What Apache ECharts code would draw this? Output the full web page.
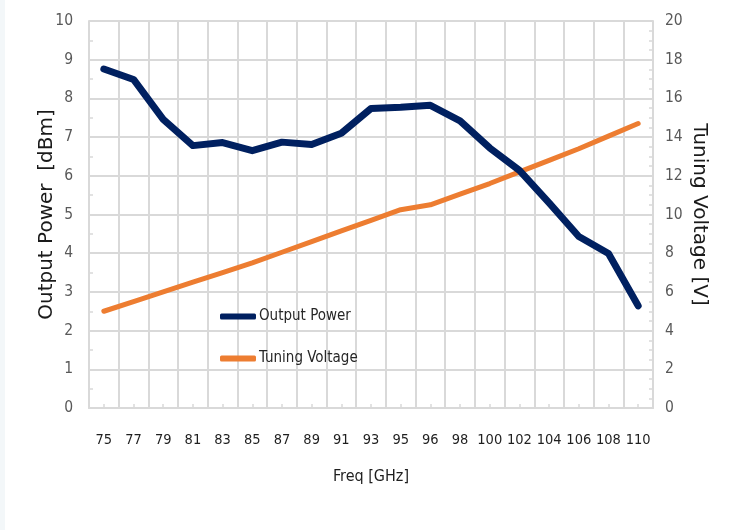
<!DOCTYPE html>
<html>
<head>
<meta charset="utf-8">
<script src="https://cdn.jsdelivr.net/npm/echarts@6/dist/echarts.min.js"></script>
<style>
html,body{margin:0;padding:0;background:#fff;}
#c{width:734px;height:530px;}
</style>
</head>
<body>
<div id="c"></div>
<script>
var freq = ['75','77','79','81','83','85','87','89','91','93','95','96','98','100','102','104','106','108','110'];
var outputPower = [8.76,8.49,7.46,6.78,6.86,6.65,6.87,6.81,7.1,7.74,7.77,7.82,7.42,6.72,6.14,5.3,4.43,3.99,2.64];
var tuningVoltage = [5.0,5.5,6.0,6.5,7.0,7.5,8.05,8.6,9.15,9.7,10.25,10.5,11.05,11.6,12.2,12.8,13.4,14.05,14.7];
var leftTicks = [0,10,1];
var rightTicks = [0,20,2];

var narrow = '"DejaVu Sans Condensed", "Liberation Sans", sans-serif';
var gridColor = '#d9d9d9';
var chart = echarts.init(document.getElementById('c'), null, {renderer:'canvas'});
chart.setOption({
  animation:false,
  backgroundColor:'#ffffff',
  graphic:[{type:'rect', shape:{x:0,y:0,width:5,height:530}, style:{fill:'#f3f7f9'}, silent:true, z:-10}],
  grid:{left:89, right:81, top:21, bottom:122, containLabel:false},
  legend:{
    orient:'vertical', left:215, top:304, itemGap:27,
    itemWidth:36, itemHeight:6, icon:'roundRect',
    textStyle:{fontFamily:narrow, fontSize:15, color:'#262626', padding:[0,0,0,-2]},
    data:['Output Power','Tuning Voltage']
  },
  xAxis:[{
    type:'category', data:freq, position:'bottom', boundaryGap:true,
    axisLine:{show:true, lineStyle:{color:gridColor, width:2}},
    axisTick:{show:true, inside:true, length:4, lineStyle:{color:gridColor, width:1.5}},
    splitLine:{show:true, lineStyle:{color:gridColor, width:2}},
    axisLabel:{fontFamily:narrow, fontSize:14.5, color:'#1f1f1f', margin:25, interval:0},
    name:'Freq [GHz]', nameLocation:'middle', nameGap:61, nameMoveOverlap:false,
    nameTextStyle:{fontFamily:narrow, fontSize:16, color:'#1f1f1f'}
  },{
    type:'category', data:freq, position:'bottom', boundaryGap:true,
    axisLine:{show:false},
    axisTick:{show:true, inside:true, length:4, alignWithLabel:true, interval:0, lineStyle:{color:gridColor, width:1.5}},
    splitLine:{show:false}, axisLabel:{show:false}
  }],
  yAxis:[{
    type:'value', min:leftTicks[0], max:leftTicks[1], interval:leftTicks[2], position:'left',
    axisLine:{show:true, lineStyle:{color:gridColor, width:2}},
    axisTick:{show:true, inside:true, length:4, lineStyle:{color:gridColor, width:1.5}},
    minorTick:{show:true, splitNumber:2, length:4, lineStyle:{color:gridColor, width:1.5}},
    splitLine:{show:true, lineStyle:{color:gridColor, width:2}},
    axisLabel:{fontFamily:narrow, fontSize:15.5, color:'#595959', margin:16},
    name:'Output Power  [dBm]', nameLocation:'middle', nameGap:32, nameRotate:90, nameMoveOverlap:false,
    nameTextStyle:{fontFamily:'"DejaVu Sans", sans-serif', fontSize:20, color:'#1a1a1a'}
  },{
    type:'value', min:rightTicks[0], max:rightTicks[1], interval:rightTicks[2], position:'right',
    axisLine:{show:true, lineStyle:{color:gridColor, width:2}},
    axisTick:{show:true, inside:true, length:4, lineStyle:{color:gridColor, width:1.5}},
    minorTick:{show:true, splitNumber:4, length:4, lineStyle:{color:gridColor, width:1.5}},
    splitLine:{show:false},
    axisLabel:{fontFamily:narrow, fontSize:15.5, color:'#595959', margin:12},
    name:'Tuning Voltage [V]', nameLocation:'middle', nameGap:36, nameRotate:-90, nameMoveOverlap:false,
    nameTextStyle:{fontFamily:'"DejaVu Sans", sans-serif', fontSize:20, color:'#1a1a1a'}
  }],
  series:[{
    name:'Output Power', type:'line', data:outputPower, xAxisIndex:0, yAxisIndex:0,
    symbol:'none', itemStyle:{color:'#002060'},
    lineStyle:{color:'#002060', width:7, cap:'round', join:'round'}, z:3
  },{
    name:'Tuning Voltage', type:'line', data:tuningVoltage, xAxisIndex:0, yAxisIndex:1,
    symbol:'none', itemStyle:{color:'#ED7D31'},
    lineStyle:{color:'#ED7D31', width:5, cap:'round', join:'round'}, z:2
  }]
});
</script>
</body>
</html>
